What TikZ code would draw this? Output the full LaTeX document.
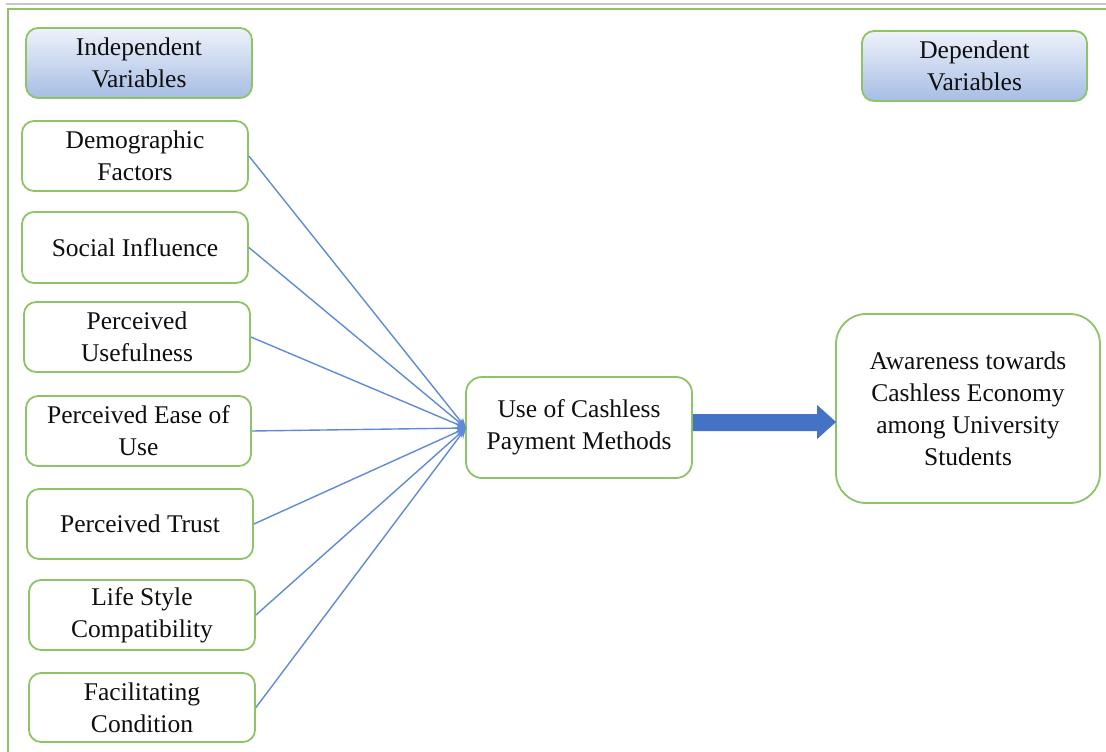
\documentclass[tikz,border=0pt]{standalone}
\usepackage{fontspec}
\setmainfont{Liberation Serif}
\usetikzlibrary{calc,arrows.meta}
\definecolor{bgreen}{RGB}{140,196,102}
\definecolor{lblue}{RGB}{96,138,214}
\definecolor{ablue}{RGB}{68,114,196}
\definecolor{htop}{RGB}{238,242,250}
\definecolor{hbot}{RGB}{166,189,228}
\definecolor{txt}{RGB}{15,15,15}
\tikzset{
  box/.style={draw=bgreen, line width=1.8pt, rounded corners=12pt, fill=white,
    align=center, text=txt, inner sep=0pt, font=\fontsize{25.5}{32}\selectfont},
  hdr/.style={box, top color=htop, bottom color=hbot},
  link/.style={draw=lblue, line width=1.4pt, -{Stealth[length=10pt,width=8pt]}}
}
\begin{document}
\begin{tikzpicture}[x=1pt,y=-1pt]
\useasboundingbox (0,0) rectangle (1106,752);
\draw[gray!45, line width=2pt] (6,4.5) -- (1106,4.5);
\draw[bgreen, line width=2pt] (8,752) -- (8,9) -- (1106,9);

\node[hdr, minimum width=226pt, minimum height=70pt] (ih) at (139,63) {Independent\\Variables};
\node[hdr, minimum width=225pt, minimum height=70pt] (dh) at (974.5,66) {Dependent\\Variables};

\node[box, minimum width=226pt, minimum height=70pt] (b1) at (135,156) {Demographic\\Factors};
\node[box, minimum width=226pt, minimum height=71pt] (b2) at (135,247.5) {Social Influence};
\node[box, minimum width=226pt, minimum height=70pt] (b3) at (137,337) {Perceived\\Usefulness};
\node[box, minimum width=225pt, minimum height=70pt] (b4) at (138.5,431) {Perceived Ease of\\Use};
\node[box, minimum width=226pt, minimum height=70pt] (b5) at (140,524) {Perceived Trust};
\node[box, minimum width=226pt, minimum height=70pt] (b6) at (142,615) {Life Style\\Compatibility};
\node[box, minimum width=226pt, minimum height=69pt] (b7) at (142,707.5) {Facilitating\\Condition};

\node[box, rounded corners=16pt, minimum width=226pt, minimum height=101pt] (use) at (579,427.5) {Use of Cashless\\Payment Methods};
\node[box, rounded corners=30pt, minimum width=264pt, minimum height=189pt] (awr) at (968,408.5) {Awareness towards\\Cashless Economy\\among University\\Students};

\coordinate (conv) at (466,428);
\foreach \b in {b1,b2,b3,b4,b5,b6,b7} {
  \draw[link] (\b.east) -- (conv);
}

\fill[ablue] ($(use.east)+(0,-13.5)$) -- ($(awr.west)+(-18,5.5)$) -- ($(awr.west)+(-18,-3.5)$)
  -- ($(awr.west)+(1,13.5)$) -- ($(awr.west)+(-18,30.5)$) -- ($(awr.west)+(-18,22.5)$)
  -- ($(use.east)+(0,3.5)$) -- cycle;
\end{tikzpicture}
\end{document}
